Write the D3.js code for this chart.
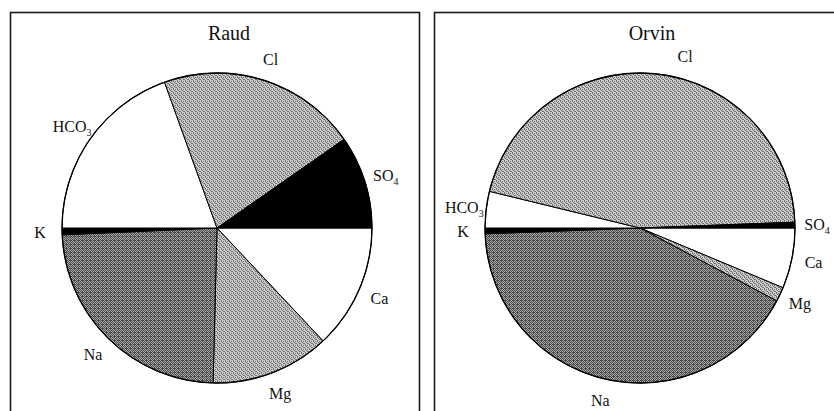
<!DOCTYPE html>
<html><head><meta charset="utf-8">
<script src="https://cdn.jsdelivr.net/npm/d3@7"></script>
<style>body{margin:0;background:#fff} svg{display:block} text{font-family:'Liberation Serif','Times New Roman',serif}</style>
</head><body><svg id="c" width="834" height="411"></svg>
<script>
// ---- data (meq %, cations + anions each sum to 50) ----
const ions = ["Ca", "Mg", "Na", "K", "HCO3", "Cl", "SO4"];
const raudValues  = [13.0, 12.4, 23.9, 0.7, 19.5, 20.8, 9.7];
const orvinValues = [6.3, 1.5, 41.6, 0.6, 3.8, 45.6, 0.6];
const siteNames = ["Raud", "Orvin"];

// ---- styling / layout (not data) ----
const fillFor = {Ca: "#fff", Mg: "url(#pLight)", Na: "url(#pDark)", K: "#000",
                 HCO3: "#fff", Cl: "url(#pLight)", SO4: "#000"};
const labelParts = {HCO3: ["HCO", "3"], SO4: ["SO", "4"]};
const labelNudgeDeg = {Orvin: {Cl: 9}};
const panels = [
  {x: 10.5, y: 12.5, w: 409, h: 420, cx: 217, cy: 228},
  {x: 434.5, y: 12.5, w: 420, h: 420, cx: 640, cy: 228}
];
const R = 155, labelR = 177;

const svg = d3.select("#c");
const defs = svg.append("defs");
function makePattern(id, base, dark, pts, size) {
  const p = defs.append("pattern").attr("id", id).attr("width", size).attr("height", size)
    .attr("patternUnits", "userSpaceOnUse");
  p.append("rect").attr("width", size).attr("height", size).attr("fill", base);
  pts.forEach(([x, y]) => p.append("rect").attr("x", x).attr("y", y)
    .attr("width", 1).attr("height", 1).attr("fill", dark));
}
makePattern("pLight", "#cdcdcd", "#707070", [[0,0],[2,1],[1,2],[3,3],[2,3],[0,1]], 4);
makePattern("pDark", "#ababab", "#474747", [[0,0],[2,0],[1,1],[3,1],[0,2],[2,2],[1,3],[3,3],[1,0]], 4);

const pie = d3.pie().sort(null).value(d => d.v)
  .startAngle(Math.PI / 2).endAngle(Math.PI / 2 + 2 * Math.PI);
const arc = d3.arc().innerRadius(0).outerRadius(R);

[raudValues, orvinValues].forEach((vals, i) => {
  const site = siteNames[i], P = panels[i];
  svg.append("rect").attr("x", P.x).attr("y", P.y).attr("width", P.w).attr("height", P.h)
    .attr("fill", "none").attr("stroke", "#1a1a1a").attr("stroke-width", 1.6);
  const data = ions.map((k, j) => ({k, v: vals[j]}));
  const g = svg.append("g").attr("transform", `translate(${P.cx},${P.cy})`);
  const arcs = pie(data);
  g.selectAll("path").data(arcs).join("path")
    .attr("d", arc).attr("fill", d => fillFor[d.data.k])
    .attr("stroke", "#000").attr("stroke-width", 1).attr("stroke-linejoin", "round");
  g.append("circle").attr("r", R).attr("fill", "none").attr("stroke", "#000").attr("stroke-width", 1.3);

  // title
  svg.append("text").attr("x", P.cx + 12).attr("y", 40).attr("text-anchor", "middle")
    .attr("font-size", 20).attr("fill", "#111").text(site);

  // labels
  arcs.forEach(a => {
    const nudge = ((labelNudgeDeg[site] || {})[a.data.k] || 0) * Math.PI / 180;
    const ang = (a.startAngle + a.endAngle) / 2 + nudge;
    const x = Math.sin(ang) * labelR, y = -Math.cos(ang) * labelR;
    const t = g.append("text").attr("x", x).attr("y", y).attr("dy", "0.35em")
      .attr("text-anchor", "middle").attr("font-size", 16).attr("fill", "#111");
    const parts = labelParts[a.data.k];
    if (parts) {
      t.append("tspan").text(parts[0]);
      t.append("tspan").attr("font-size", 10).attr("dy", 4).text(parts[1]);
    } else t.text(a.data.k);
  });
});
</script></body></html>
